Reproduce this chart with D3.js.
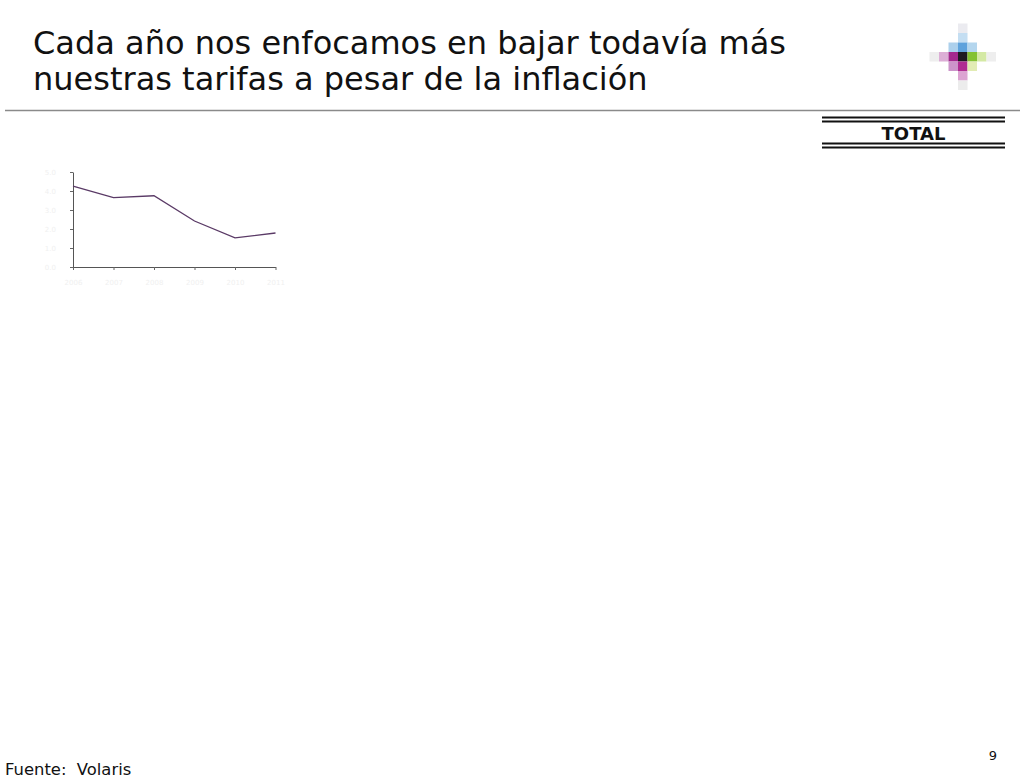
<!DOCTYPE html>
<html>
<head>
<meta charset="utf-8">
<script src="https://cdn.jsdelivr.net/npm/d3@7"></script>
<style>
html,body{margin:0;padding:0;background:#fff;}
svg{display:block;}
</style>
</head>
<body>
<svg id="chart" width="1024" height="783"></svg>
<script>
// ---- data ----
// NOTE: the reference's axis tick labels are washed out and unreadable.
// The category names and y tick values below are PLACEHOLDERS (guessed),
// drawn in near-white to match the faint marks. The series values are
// estimated from line positions on an assumed 0–5 scale, not real figures.
const titleLines = ["Cada año nos enfocamos en bajar todavía más", "nuestras tarifas a pesar de la inflación"];
const categories = ["2006", "2007", "2008", "2009", "2010", "2011"];
const values = [4.26, 3.65, 3.75, 2.42, 1.53, 1.79];
const yTicks = [0, 1, 2, 3, 4, 5];
const boxLabel = "TOTAL";
const sourceText = "Fuente:  Volaris";
const pageNumber = "9";

const svg = d3.select("#chart");
const font = "'DejaVu Sans', Verdana, sans-serif";

// title
svg.append("g").selectAll("text").data(titleLines).join("text")
  .attr("x", 33).attr("y", (d, i) => 54 + i * 36)
  .attr("font-family", font).attr("font-size", 32).attr("fill", "#111")
  .text(d => d);

// rule
svg.append("line").attr("x1", 5).attr("x2", 1020).attr("y1", 110.5).attr("y2", 110.5)
  .attr("stroke", "#8a8a8a").attr("stroke-width", 1.5);

// logo
const logoCells = [
  [0,-3,"#ebebf0"],
  [0,-2,"#c4def2"],
  [-1,-1,"#acd0ec"],[0,-1,"#5ea2dc"],[1,-1,"#b4d6ee"],
  [-3,0,"#eeeeee"],[-2,0,"#dcaed6"],[-1,0,"#a4288e"],[0,0,"#1e1a22"],[1,0,"#84c232"],[2,0,"#d4e9a4"],[3,0,"#eeeeee"],
  [-1,1,"#cc94ca"],[0,1,"#b02c92"],[1,1,"#e2ecb4"],
  [0,2,"#dca4d2"],
  [0,3,"#ececec"]
];
const cs = 9.5, lcx = 958, lcy = 52;
svg.append("g").selectAll("rect").data(logoCells).join("rect")
  .attr("x", d => lcx + d[0] * cs).attr("y", d => lcy + d[1] * cs)
  .attr("width", cs).attr("height", cs).attr("fill", d => d[2]);

// TOTAL box
const bx1 = 822, bx2 = 1005;
[117.5, 121.5, 143.5, 147.5].forEach(y => {
  svg.append("line").attr("x1", bx1).attr("x2", bx2).attr("y1", y).attr("y2", y)
    .attr("stroke", "#111").attr("stroke-width", 2);
});
svg.append("text").attr("x", 913.5).attr("y", 139.5).attr("text-anchor", "middle")
  .attr("font-family", font).attr("font-weight", "bold").attr("font-size", 18).attr("fill", "#111")
  .text(boxLabel);

// chart
const x = d3.scalePoint().domain(categories).range([73, 275.5]);
const y = d3.scaleLinear().domain([0, 5]).range([267, 172]);

const xAxis = svg.append("g").attr("transform", "translate(0,267)")
  .call(d3.axisBottom(x).tickSizeInner(3).tickSizeOuter(0).tickPadding(10));
xAxis.select(".domain").attr("stroke", "#555").attr("d", "M73,0.5H276");
xAxis.selectAll(".tick line").attr("stroke", "#666");
xAxis.selectAll("text").attr("fill", "#f0f0f0").attr("font-size", 7).attr("font-family", font);

const yAxis = svg.append("g").attr("transform", "translate(73,0)")
  .call(d3.axisLeft(y).tickValues(yTicks).tickSizeInner(3).tickSizeOuter(0).tickPadding(14));
yAxis.select(".domain").attr("stroke", "#555");
yAxis.selectAll(".tick line").attr("stroke", "#666");
yAxis.selectAll("text").attr("fill", "#f0f0f0").attr("font-size", 7).attr("font-family", font);

svg.append("path").datum(values)
  .attr("fill", "none").attr("stroke", "#5a3a66").attr("stroke-width", 1.3)
  .attr("d", d3.line().x((d, i) => x(categories[i])).y(d => y(d)));

// footer
svg.append("text").attr("x", 5).attr("y", 775)
  .attr("font-family", font).attr("font-size", 16.4).attr("fill", "#111")
  .style("white-space", "pre")
  .text(sourceText);
svg.append("text").attr("x", 993).attr("y", 760).attr("text-anchor", "middle")
  .attr("font-family", font).attr("font-size", 13).attr("fill", "#111")
  .text(pageNumber);
</script>
</body>
</html>
